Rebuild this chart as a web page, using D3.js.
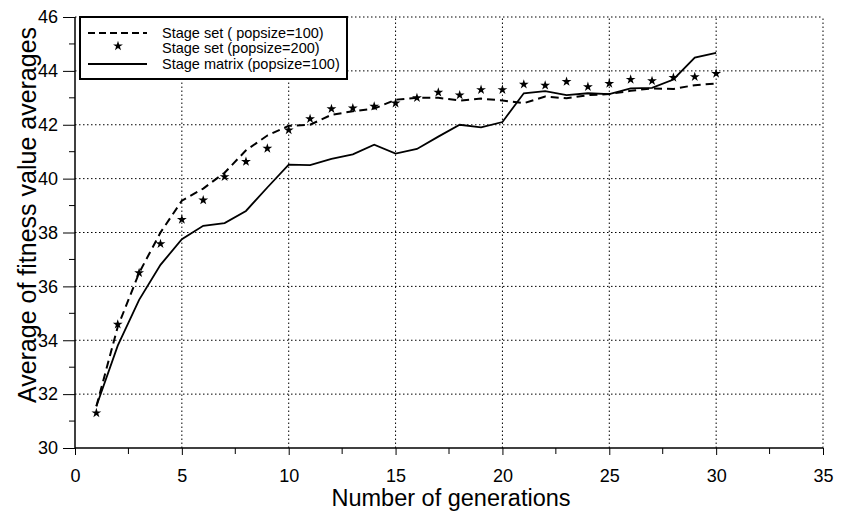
<!DOCTYPE html>
<html>
<head>
<meta charset="utf-8">
<script src="https://cdn.jsdelivr.net/npm/d3@7"></script>
<style>
    body { margin: 0; background: #fff; }
    text { font-family: 'Liberation Sans', Arial, sans-serif; fill: #000; }
</style>
</head>
<body>
<svg id="chart" width="847" height="516"></svg>
<script>
let generations = [1, 2, 3, 4, 5, 6, 7, 8, 9, 10, 11, 12, 13, 14, 15,
    16, 17, 18, 19, 20, 21, 22, 23, 24, 25, 26, 27, 28, 29, 30]

// Stage set (popsize=100) - dashed
let setPop100 = [31.55, 34.5, 36.5, 38.0, 39.18, 39.63, 40.22, 41.05, 41.6, 41.96,
    42.0, 42.37, 42.5, 42.6, 42.93, 43.0, 43.0, 42.9, 42.97, 42.9,
    42.8, 43.05, 42.98, 43.1, 43.14, 43.26, 43.35, 43.33, 43.47, 43.53]

// Stage set (popsize=200) - stars
let setPop200 = [31.3, 34.59, 36.5, 37.58, 38.48, 39.2, 40.07, 40.63, 41.12, 41.8,
    42.22, 42.59, 42.62, 42.68, 42.8, 43.0, 43.2, 43.1, 43.3, 43.3,
    43.5, 43.46, 43.6, 43.41, 43.53, 43.68, 43.63, 43.75, 43.78, 43.9]

// Stage matrix (popsize=100) - solid
let matrixPop100 = [31.55, 33.8, 35.5, 36.8, 37.75, 38.25, 38.35, 38.8, 39.67, 40.52,
    40.5, 40.73, 40.9, 41.26, 40.93, 41.1, 41.56, 42.0, 41.9, 42.1,
    43.17, 43.25, 43.1, 43.17, 43.14, 43.35, 43.37, 43.68, 44.49, 44.67]

let xTicks = [0, 5, 10, 15, 20, 25, 30, 35]
let xMinorTicks = [2.5, 7.5, 12.5, 17.5, 22.5, 27.5, 32.5]
let yTicks = [30, 32, 34, 36, 38, 40, 42, 44, 46]
let yMinorTicks = [31, 33, 35, 37, 39, 41, 43, 45]

let legendLabels = [
    'Stage  set  ( popsize=100)',
    'Stage set  (popsize=200)',
    'Stage matrix (popsize=100)'
]

function main() {
    let svg = d3.select('#chart'),
        margin = {top: 17, bottom: 68, left: 75, right: 24},
        width = svg.attr('width') - margin.left - margin.right,
        height = svg.attr('height') - margin.top - margin.bottom

    let x = d3.scaleLinear().domain([0, 35]).range([margin.left, margin.left + width]),
        y = d3.scaleLinear().domain([30, 46]).range([margin.top + height, margin.top])

    // dotted grid
    let grid = svg.append('g').attr('stroke', '#000').attr('stroke-width', 1)
        .attr('stroke-dasharray', '1.5,2.5')
    grid.selectAll('.gx').data(xTicks.slice(1)).enter().append('line')
        .attr('x1', d => x(d)).attr('x2', d => x(d))
        .attr('y1', y(30)).attr('y2', y(46))
    grid.selectAll('.gy').data(yTicks.slice(1)).enter().append('line')
        .attr('x1', x(0)).attr('x2', x(35))
        .attr('y1', d => y(d)).attr('y2', d => y(d))

    // axes
    let xAxis = svg.append('g')
        .attr('transform', 'translate(0,' + y(30) + ')')
        .call(d3.axisBottom(x).tickValues(xTicks).tickSize(7).tickPadding(14).tickFormat(d3.format('d')))
    xAxis.select('.domain').attr('d', 'M' + x(0) + ',0H' + x(35)).attr('stroke-width', 1.5)
    xAxis.selectAll('text').style('font-size', '18px')
    xAxis.selectAll('.minor').data(xMinorTicks).enter().append('line')
        .attr('x1', d => x(d)).attr('x2', d => x(d))
        .attr('y1', 0).attr('y2', 6).attr('stroke', '#000')

    let yAxis = svg.append('g')
        .attr('transform', 'translate(' + x(0) + ',0)')
        .call(d3.axisLeft(y).tickValues(yTicks).tickSize(12).tickPadding(5))
    yAxis.select('.domain').attr('d', 'M0,' + y(30) + 'V' + y(46)).attr('stroke-width', 1.5)
    yAxis.selectAll('text').style('font-size', '18px')
    yAxis.selectAll('.minor').data(yMinorTicks).enter().append('line')
        .attr('x1', -6).attr('x2', 0)
        .attr('y1', d => y(d)).attr('y2', d => y(d)).attr('stroke', '#000')

    svg.append('text')
        .attr('text-anchor', 'middle')
        .attr('x', 451)
        .attr('y', 506)
        .style('font-size', '23.5px')
        .text('Number of generations')

    svg.append('text')
        .attr('text-anchor', 'middle')
        .attr('transform', 'translate(36,' + 215 + ') rotate(-90)')
        .style('font-size', '25px')
        .text('Average of fitness value averages')

    // series
    let line = d3.line().x((d, i) => x(generations[i])).y(d => y(d))

    svg.append('path')
        .datum(setPop100)
        .attr('d', line)
        .attr('fill', 'none')
        .attr('stroke', '#000')
        .attr('stroke-width', 2)
        .attr('stroke-dasharray', '8,5')

    svg.append('path')
        .datum(matrixPop100)
        .attr('d', line)
        .attr('fill', 'none')
        .attr('stroke', '#000')
        .attr('stroke-width', 1.8)

    let star = d3.symbol(d3.symbolStar).size(30)
    svg.selectAll('.star')
        .data(setPop200)
        .enter()
        .append('path')
        .attr('d', star)
        .attr('transform', (d, i) => 'translate(' + x(generations[i]) + ',' + y(d) + ')')
        .attr('fill', '#000')

    // legend
    let legend = svg.append('g').attr('transform', 'translate(80,17)')
    legend.append('rect')
        .attr('width', 267).attr('height', 62)
        .attr('fill', '#fff').attr('stroke', '#000').attr('stroke-width', 2)
    let rows = [16, 31, 47]
    legend.selectAll('.lt').data(legendLabels).enter().append('text')
        .attr('x', 82)
        .attr('y', (d, i) => rows[i] + 5)
        .style('font-size', '14.5px')
        .text(d => d)
    legend.append('line')
        .attr('x1', 8).attr('x2', 67).attr('y1', rows[0]).attr('y2', rows[0])
        .attr('stroke', '#000').attr('stroke-width', 2).attr('stroke-dasharray', '7,4')
    legend.append('path')
        .attr('d', star)
        .attr('transform', 'translate(38,' + (rows[1] - 2) + ')')
        .attr('fill', '#000')
    legend.append('line')
        .attr('x1', 8).attr('x2', 67).attr('y1', rows[2]).attr('y2', rows[2])
        .attr('stroke', '#000').attr('stroke-width', 1.8)
}

main()
</script>
</body>
</html>
